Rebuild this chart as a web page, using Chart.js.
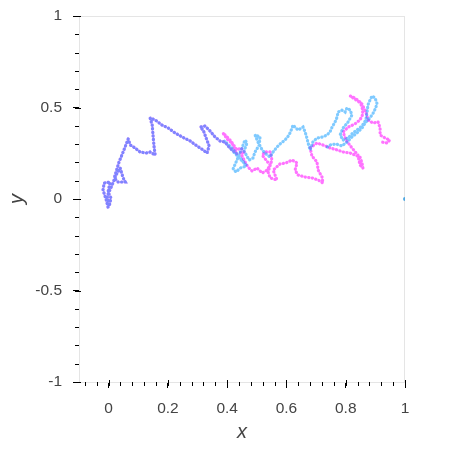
<!DOCTYPE html>
<html>
<head>
<meta charset="utf-8">
<script src="https://cdn.jsdelivr.net/npm/chart.js@4"></script>
<style>
  body { margin: 0; background: #fff; }
</style>
</head>
<body>
<canvas id="chart" width="450" height="450"></canvas>
<script>
// tick labels
const xTicks = [0, 0.2, 0.4, 0.6, 0.8, 1];
const yTicks = [-1, -0.5, 0, 0.5, 1];

// path that both walks share at the start
const sharedWalk = [
  [-0.002, -0.044], [-0.008, -0.005], [-0.019, 0.049], [-0.015, 0.087], [0.005, 0.093],
  [-0.002, 0.038], [0.008, 0.005], [0.002, -0.038], [-0.005, 0.016], [0.012, 0.077],
  [0.025, 0.131], [0.039, 0.169], [0.049, 0.115], [0.056, 0.093], [0.032, 0.093],
  [0.019, 0.115], [0.035, 0.202], [0.049, 0.257], [0.066, 0.328], [0.073, 0.295],
  [0.089, 0.279], [0.106, 0.257], [0.126, 0.251], [0.140, 0.257], [0.157, 0.240],
  [0.153, 0.290], [0.150, 0.344], [0.147, 0.404], [0.140, 0.443], [0.157, 0.432],
  [0.180, 0.404], [0.201, 0.388], [0.224, 0.361], [0.248, 0.339], [0.275, 0.317],
  [0.298, 0.290], [0.319, 0.268], [0.332, 0.251], [0.339, 0.290], [0.329, 0.333],
  [0.319, 0.377], [0.309, 0.393], [0.325, 0.399], [0.342, 0.372], [0.359, 0.339],
  [0.376, 0.317], [0.393, 0.311], [0.403, 0.290], [0.416, 0.268], [0.433, 0.246]
];

// blue walk after the split
const blueWalk = [
  [0.450, 0.213], [0.464, 0.186], [0.437, 0.230], [0.410, 0.279], [0.390, 0.317],
  [0.413, 0.284], [0.444, 0.224], [0.464, 0.180], [0.444, 0.169], [0.430, 0.148],
  [0.420, 0.164], [0.430, 0.202], [0.440, 0.240], [0.450, 0.279], [0.460, 0.322],
  [0.467, 0.306], [0.457, 0.262], [0.474, 0.213], [0.487, 0.224], [0.494, 0.257],
  [0.508, 0.295], [0.511, 0.339], [0.494, 0.350], [0.504, 0.311], [0.518, 0.268],
  [0.535, 0.240], [0.545, 0.230], [0.555, 0.257], [0.568, 0.284], [0.582, 0.306],
  [0.595, 0.322], [0.609, 0.350], [0.619, 0.388], [0.622, 0.404], [0.629, 0.393],
  [0.639, 0.377], [0.656, 0.393], [0.663, 0.366], [0.669, 0.333], [0.673, 0.306],
  [0.680, 0.268], [0.689, 0.311], [0.703, 0.333], [0.723, 0.339], [0.737, 0.350],
  [0.747, 0.366], [0.754, 0.393], [0.764, 0.421], [0.771, 0.448], [0.774, 0.475],
  [0.787, 0.486], [0.798, 0.475], [0.804, 0.497], [0.815, 0.486], [0.821, 0.459],
  [0.808, 0.421], [0.791, 0.388], [0.781, 0.350], [0.791, 0.322], [0.808, 0.333],
  [0.824, 0.361], [0.838, 0.377], [0.855, 0.399], [0.868, 0.432], [0.872, 0.475],
  [0.875, 0.514], [0.882, 0.541], [0.889, 0.563], [0.899, 0.552], [0.906, 0.519],
  [0.895, 0.475], [0.882, 0.443], [0.868, 0.421], [0.855, 0.388], [0.838, 0.361],
  [0.821, 0.339], [0.804, 0.311], [0.787, 0.290], [0.767, 0.301], [0.747, 0.295],
  [0.734, 0.279]
];

// magenta walk after the split
const pinkWalk = [
  [0.416, 0.306], [0.403, 0.322], [0.390, 0.350], [0.386, 0.361], [0.410, 0.322],
  [0.433, 0.268], [0.447, 0.279], [0.460, 0.251], [0.444, 0.257], [0.457, 0.213],
  [0.470, 0.175], [0.484, 0.153], [0.501, 0.169], [0.518, 0.142], [0.535, 0.158],
  [0.545, 0.186], [0.531, 0.213], [0.518, 0.240], [0.528, 0.257], [0.545, 0.257],
  [0.551, 0.213], [0.538, 0.148], [0.545, 0.115], [0.568, 0.104], [0.555, 0.158],
  [0.578, 0.191], [0.598, 0.197], [0.619, 0.213], [0.636, 0.197], [0.629, 0.158],
  [0.639, 0.131], [0.663, 0.120], [0.686, 0.115], [0.707, 0.104], [0.723, 0.087],
  [0.720, 0.120], [0.707, 0.158], [0.703, 0.202], [0.686, 0.235], [0.680, 0.279],
  [0.703, 0.306], [0.723, 0.295], [0.747, 0.279], [0.771, 0.268], [0.791, 0.257],
  [0.815, 0.251], [0.831, 0.240], [0.848, 0.230], [0.855, 0.197], [0.858, 0.169],
  [0.848, 0.186], [0.841, 0.240], [0.821, 0.279], [0.801, 0.322], [0.791, 0.366],
  [0.808, 0.393], [0.831, 0.410], [0.848, 0.432], [0.858, 0.464], [0.855, 0.503],
  [0.848, 0.530], [0.831, 0.552], [0.815, 0.563], [0.835, 0.541], [0.855, 0.519],
  [0.868, 0.475], [0.875, 0.432], [0.892, 0.415], [0.909, 0.421], [0.916, 0.388],
  [0.916, 0.350], [0.933, 0.333], [0.949, 0.322], [0.939, 0.306], [0.922, 0.311]
];

// lone point on the right edge
const edgePoint = [[1, 0]];

const toXY = arr => arr.map(p => ({x: p[0], y: p[1]}));

function walkDataset(points, color) {
  return {
    data: toXY(points),
    showLine: true,
    borderColor: color,
    borderWidth: 3.2,
    borderDash: [0.3, 3.3],
    borderCapStyle: 'round',
    pointRadius: 0,
    fill: false
  };
}

// minor ticks, inner tick stubs and the light frame
const axisDecor = {
  id: 'axisDecor',
  beforeDatasetsDraw(chart) {
    const {ctx, chartArea: a} = chart;
    ctx.save();
    ctx.strokeStyle = '#e5e5e5';
    ctx.lineWidth = 1;
    ctx.strokeRect(a.left + 0.5, a.top + 0.5, a.right - a.left - 1, a.bottom - a.top);
    ctx.restore();
  },
  afterDraw(chart) {
    const {ctx, chartArea: a, scales} = chart;
    ctx.save();
    ctx.strokeStyle = '#000';
    ctx.lineWidth = 1;
    ctx.beginPath();
    for (let i = -2; i <= 25; i++) {
      const px = Math.round(scales.x.getPixelForValue(i * 0.04)) + 0.5;
      ctx.moveTo(px, a.bottom);
      ctx.lineTo(px, a.bottom + 4);
    }
    for (let i = -10; i <= 10; i++) {
      const py = Math.round(scales.y.getPixelForValue(i * 0.1)) + 0.5;
      ctx.moveTo(a.left, py);
      ctx.lineTo(a.left - 4, py);
    }
    xTicks.forEach(v => {
      const px = Math.round(scales.x.getPixelForValue(v)) + 0.5;
      ctx.moveTo(px, a.bottom);
      ctx.lineTo(px, a.bottom - 2);
    });
    yTicks.forEach(v => {
      const py = Math.round(scales.y.getPixelForValue(v)) + 0.5;
      ctx.moveTo(a.left, py);
      ctx.lineTo(a.left + 2, py);
    });
    ctx.stroke();
    ctx.restore();
  }
};

const tickFont = {family: 'Liberation Sans', size: 15.5};
const titleFont = {family: 'Liberation Sans', size: 20, style: 'italic'};
const fmt = v => String(+Number(v).toFixed(2));

new Chart(document.getElementById('chart').getContext('2d'), {
  type: 'scatter',
  data: {
    datasets: [
      walkDataset(sharedWalk.concat(blueWalk), 'rgba(0,150,255,0.5)'),
      walkDataset(sharedWalk.concat(pinkWalk), 'rgba(255,0,255,0.55)'),
      {
        data: toXY(edgePoint),
        pointRadius: 2,
        pointBorderWidth: 0,
        pointBackgroundColor: 'rgba(40,150,220,0.8)'
      }
    ]
  },
  options: {
    responsive: false,
    animation: false,
    layout: {padding: {top: 16, right: 45, left: 0, bottom: 0}},
    plugins: {legend: {display: false}, tooltip: {enabled: false}},
    scales: {
      x: {
        type: 'linear',
        min: -0.1,
        max: 1,
        afterBuildTicks: s => { s.ticks = xTicks.map(v => ({value: v})); },
        afterFit: s => { s.height = 68; },
        ticks: {color: '#444', font: tickFont, padding: 11, callback: fmt},
        grid: {drawOnChartArea: false, tickLength: 6, color: '#000'},
        border: {color: '#000', width: 1},
        title: {display: true, text: 'x', color: '#444', font: titleFont, padding: {top: 0, bottom: 6}}
      },
      y: {
        type: 'linear',
        min: -1,
        max: 1,
        afterBuildTicks: s => { s.ticks = yTicks.map(v => ({value: v})); },
        afterFit: s => { s.width = 79; s.paddingTop = 0; s.paddingBottom = 0; },
        ticks: {color: '#444', font: tickFont, padding: 11, callback: fmt},
        grid: {drawOnChartArea: false, tickLength: 6, color: '#000'},
        border: {color: '#000', width: 1},
        title: {display: true, text: 'y', color: '#444', font: titleFont, padding: {top: 5, bottom: 0}}
      }
    }
  },
  plugins: [axisDecor]
});
</script>
</body>
</html>
